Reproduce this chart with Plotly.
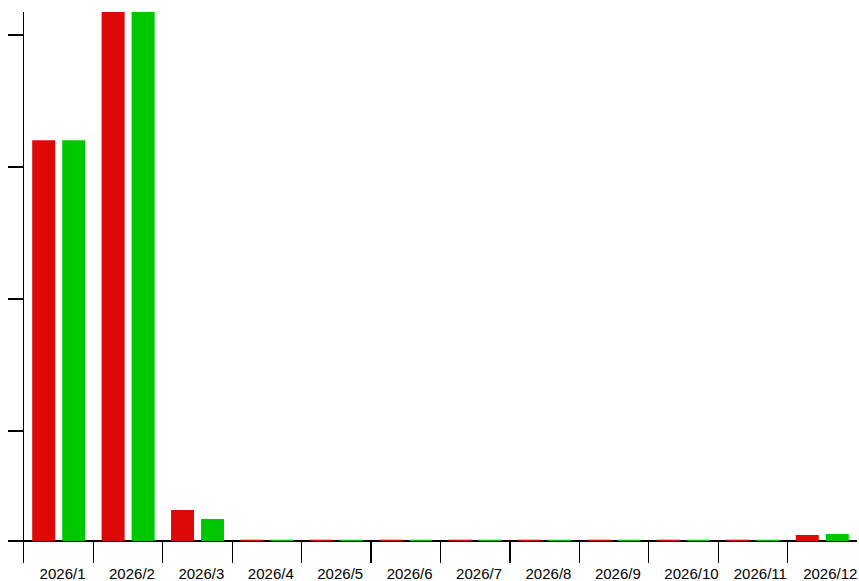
import plotly.graph_objects as go

months = ["2026/1", "2026/2", "2026/3", "2026/4", "2026/5", "2026/6",
          "2026/7", "2026/8", "2026/9", "2026/10", "2026/11", "2026/12"]
red_values = [91.1, 130.0, 7.05, 0.3, 0.3, 0.3, 0.3, 0.3, 0.3, 0.3, 0.3, 1.36]
green_values = [91.1, 130.0, 5.0, 0.3, 0.3, 0.3, 0.3, 0.3, 0.3, 0.3, 0.3, 1.6]
y_tick_values = [0, 25, 55, 85, 115]

x_pos = list(range(len(months)))
boundaries = [i - 0.5 for i in x_pos]

fig = go.Figure()
fig.add_trace(go.Bar(x=x_pos, y=red_values, marker=dict(color="#dd0909", line=dict(width=0)),
                     showlegend=False, hoverinfo="skip"))
fig.add_trace(go.Bar(x=x_pos, y=green_values, marker=dict(color="#00c800", line=dict(width=0)),
                     showlegend=False, hoverinfo="skip"))

fig.update_layout(
    width=859, height=581,
    margin=dict(l=24, r=2, t=12, b=18, pad=0),
    paper_bgcolor="white", plot_bgcolor="white",
    barmode="group", bargap=0.1357, bargroupgap=0.233,
    font=dict(family="Liberation Sans, Arial, sans-serif", size=15, color="#000"),
)
fig.update_xaxes(
    type="linear", range=[-0.5, len(months) - 0.5],
    tickmode="array", tickvals=boundaries, ticktext=months,
    ticks="inside", ticklen=22, tickwidth=1.2, tickcolor="black",
    ticklabelposition="outside right", ticklabelshift=15,
    showline=False, showgrid=False, zeroline=False, automargin=False,
)
fig.update_yaxes(
    range=[-5, 120.23],
    tickmode="array", tickvals=y_tick_values, showticklabels=False,
    ticks="outside", ticklen=15, tickwidth=1.2, tickcolor="black",
    showline=True, linecolor="black", linewidth=1.2,
    showgrid=False, zeroline=True, zerolinecolor="black", zerolinewidth=1.2,
    automargin=False,
)

fig.write_html(
    "out.html",
    config={"displayModeBar": False, "staticPlot": True},
    post_script="document.body.style.margin='0';document.body.style.overflow='hidden';",
)
